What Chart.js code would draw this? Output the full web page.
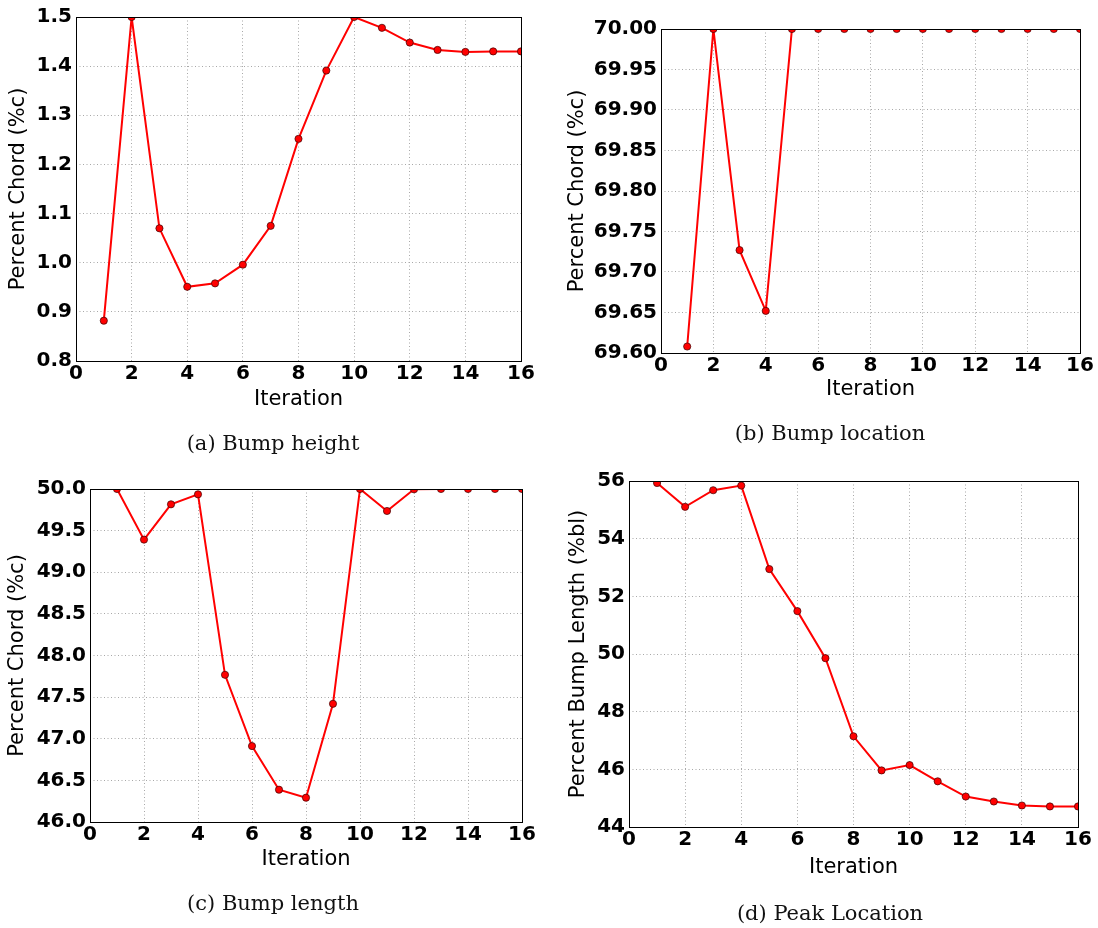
<!DOCTYPE html>
<html>
<head>
<meta charset="utf-8">
<script src="https://cdn.jsdelivr.net/npm/chart.js@4.4.1/dist/chart.umd.min.js"></script>
<style>
  body { margin: 0; background: #fff; }
  #wrap { position: relative; width: 1098px; height: 928px; }
  #wrap canvas { position: absolute; left: 0; top: 0; }
  .cap { position: absolute; font-family: 'DejaVu Serif', serif; font-size: 21px;
         transform: translate(-50%, -50%); white-space: nowrap; color: #111; }
</style>
</head>
<body>
<div id="wrap">
  <canvas id="chartA" width="1098" height="928"></canvas>
  <canvas id="chartB" width="1098" height="928"></canvas>
  <canvas id="chartC" width="1098" height="928"></canvas>
  <canvas id="chartD" width="1098" height="928"></canvas>
  <div class="cap" style="left:273px;top:443px">(a) Bump height</div>
  <div class="cap" style="left:830px;top:433px">(b) Bump location</div>
  <div class="cap" style="left:273px;top:903px">(c) Bump length</div>
  <div class="cap" style="left:830px;top:913px">(d) Peak Location</div>
</div>
<script>
// values
const iterations = [1, 2, 3, 4, 5, 6, 7, 8, 9, 10, 11, 12, 13, 14, 15, 16];
const bumpHeight = [0.882, 1.5, 1.070, 0.951, 0.958, 0.996, 1.075, 1.252, 1.391, 1.5, 1.478, 1.448, 1.433, 1.429, 1.430, 1.430];
const bumpLocation = [69.608, 70.0, 69.727, 69.652, 70.0, 70.0, 70.0, 70.0, 70.0, 70.0, 70.0, 70.0, 70.0, 70.0, 70.0, 70.0];
const bumpLength = [50.0, 49.392, 49.816, 49.936, 47.768, 46.912, 46.388, 46.292, 47.42, 50.0, 49.736, 49.996, 50.0, 50.0, 50.0, 50.0];
const peakLocation = [55.93, 55.104, 55.68, 55.84, 52.945, 51.487, 49.856, 47.146, 45.963, 46.147, 45.584, 45.056, 44.884, 44.746, 44.712, 44.712];

const xTicks = [0, 2, 4, 6, 8, 10, 12, 14, 16];
const heightTicks = [0.8, 0.9, 1.0, 1.1, 1.2, 1.3, 1.4, 1.5];
const locationTicks = [69.60, 69.65, 69.70, 69.75, 69.80, 69.85, 69.90, 69.95, 70.00];
const lengthTicks = [46.0, 46.5, 47.0, 47.5, 48.0, 48.5, 49.0, 49.5, 50.0];
const peakTicks = [44, 46, 48, 50, 52, 54, 56];

Chart.defaults.font.family = "'DejaVu Sans', sans-serif";
Chart.defaults.color = '#000';

const W = 1098, H = 928;
const TITLE_SIZE = 21;
const halfTitle = TITLE_SIZE * 1.2 / 2;

// box around the plot area, drawn over the lines like matplotlib spines
const frame = {
    id: 'frame',
    afterDatasetsDraw(chart) {
        const a = chart.chartArea;
        const ctx = chart.ctx;
        const l = Math.round(a.left), t = Math.round(a.top);
        const r = Math.round(a.right), b = Math.round(a.bottom);
        ctx.save();
        ctx.strokeStyle = '#000';
        ctx.lineWidth = 1;
        ctx.strokeRect(l + 0.5, t + 0.5, r - l, b - t);
        ctx.restore();
    }
};

function makeChart(id, values, yTicks, decimals, yTitle, area, yTitleX, xTitleY) {
    const points = iterations.map((it, i) => ({ x: it, y: values[i] }));
    const yWidth = area.l - (yTitleX - halfTitle);
    const xHeight = (xTitleY + halfTitle) - area.b;
    const grid = { color: '#a8a8a8', lineWidth: 1, drawTicks: false };
    const border = { display: false, dash: [1, 2.5] };

    return new Chart(document.getElementById(id), {
        type: 'line',
        data: {
            datasets: [{
                data: points,
                borderColor: '#ff0000',
                borderWidth: 2,
                backgroundColor: '#ff0000',
                pointBackgroundColor: '#ff0000',
                pointBorderColor: '#3a0000',
                pointBorderWidth: 0.7,
                pointRadius: 3.6,
                tension: 0,
                clip: 0,
            }],
        },
        options: {
            responsive: false,
            animation: false,
            devicePixelRatio: 1,
            layout: {
                padding: {
                    left: area.l - yWidth,
                    top: area.t,
                    right: W - area.r,
                    bottom: H - area.b - xHeight,
                }
            },
            plugins: {
                legend: { display: false },
                tooltip: { enabled: false },
            },
            scales: {
                x: {
                    type: 'linear',
                    min: xTicks[0],
                    max: xTicks[xTicks.length - 1],
                    afterBuildTicks: s => { s.ticks = xTicks.map(v => ({ value: v })); },
                    afterFit: s => { s.height = xHeight; },
                    grid: grid,
                    border: border,
                    ticks: {
                        autoSkip: false,
                        maxRotation: 0,
                        padding: 1,
                        font: { size: 20, weight: 'bold' },
                        callback: v => String(v),
                    },
                    title: {
                        display: true,
                        text: 'Iteration',
                        padding: 0,
                        font: { size: TITLE_SIZE },
                    },
                },
                y: {
                    min: yTicks[0],
                    max: yTicks[yTicks.length - 1],
                    afterBuildTicks: s => { s.ticks = yTicks.map(v => ({ value: v })); },
                    afterFit: s => { s.width = yWidth; },
                    grid: grid,
                    border: border,
                    ticks: {
                        autoSkip: false,
                        padding: 4,
                        font: { size: 20, weight: 'bold' },
                        callback: v => Number(v).toFixed(decimals),
                    },
                    title: {
                        display: true,
                        text: yTitle,
                        padding: 0,
                        font: { size: TITLE_SIZE },
                    },
                },
            },
        },
        plugins: [frame],
    });
}

makeChart('chartA', bumpHeight, heightTicks, 1, 'Percent Chord (%c)',
    { l: 76, t: 17, r: 521, b: 361 }, 19, 400);
makeChart('chartB', bumpLocation, locationTicks, 2, 'Percent Chord (%c)',
    { l: 661, t: 29, r: 1080, b: 353 }, 578, 390);
makeChart('chartC', bumpLength, lengthTicks, 1, 'Percent Chord (%c)',
    { l: 90, t: 489, r: 522, b: 822 }, 18, 860);
makeChart('chartD', peakLocation, peakTicks, 0, 'Percent Bump Length (%bl)',
    { l: 629, t: 481, r: 1078, b: 827 }, 579, 868);
</script>
</body>
</html>
